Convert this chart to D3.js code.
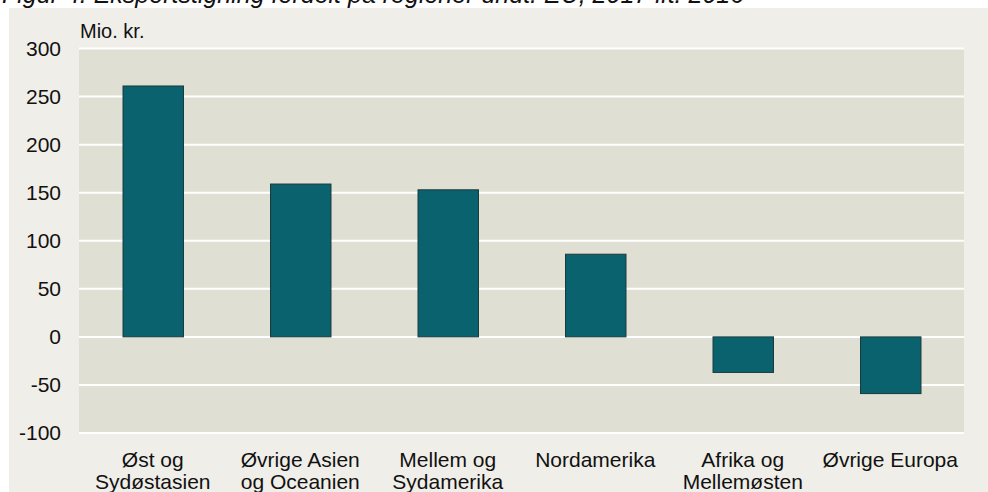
<!DOCTYPE html>
<html>
<head>
<meta charset="utf-8">
<script src="https://cdn.jsdelivr.net/npm/d3@7"></script>
<style>
  body { margin: 0; background: #ffffff; }
  svg { display: block; font-family: Arial, "Liberation Sans", sans-serif; }
</style>
</head>
<body>
<svg id="chart" width="988" height="492"></svg>
<script>
const categories = [
  ["Øst og", "Sydøstasien"],
  ["Øvrige Asien", "og Oceanien"],
  ["Mellem og", "Sydamerika"],
  ["Nordamerika"],
  ["Afrika og", "Mellemøsten"],
  ["Øvrige Europa"],
];
const values = [261, 159, 153, 86, -37, -59];
const yTicks = [-100, -50, 0, 50, 100, 150, 200, 250, 300];

const svg = d3.select("#chart");
const width = 988, height = 492;
const margin = { top: 48.5, right: 24, bottom: 59, left: 79 };

// outer panel
svg.append("rect").attr("x", 9).attr("y", 8).attr("width", width - 9).attr("height", height - 8)
  .attr("fill", "#efeee8");

// title (cut off at top in the original)
svg.append("text").attr("x", 2).attr("y", 3)
  .attr("font-size", 25).attr("font-style", "italic").attr("fill", "#111")
  .text("Figur 4. Eksportstigning fordelt på regioner undt. EU, 2017 ift. 2016");

const x = d3.scaleBand().domain(d3.range(categories.length))
  .range([margin.left, width - margin.right]).paddingInner(0.59).paddingOuter(0.295);
const y = d3.scaleLinear().domain([-100, 300]).range([height - margin.bottom, margin.top]);

svg.append("rect").attr("x", margin.left).attr("y", margin.top)
  .attr("width", width - margin.right - margin.left)
  .attr("height", y(-100) - y(300))
  .attr("fill", "#e0dfd4");

// grid
svg.append("g").selectAll("line").data(yTicks).join("line")
  .attr("x1", margin.left).attr("x2", width - margin.right)
  .attr("y1", (d) => y(d)).attr("y2", (d) => y(d))
  .attr("stroke", "#ffffff").attr("stroke-width", 2);

// y labels
svg.append("g").selectAll("text").data(yTicks).join("text")
  .attr("x", 61).attr("y", (d) => y(d)).attr("dy", "0.35em")
  .attr("text-anchor", "end").attr("font-size", 21).attr("fill", "#111")
  .text((d) => d);

svg.append("text").attr("x", 80).attr("y", 38)
  .attr("font-size", 20).attr("fill", "#111").text("Mio. kr.");

// bars
svg.append("g").selectAll("rect").data(values).join("rect")
  .attr("x", (d, i) => x(i) + 0.5)
  .attr("width", x.bandwidth())
  .attr("y", (d) => y(Math.max(0, d)))
  .attr("height", (d) => Math.abs(y(d) - y(0)))
  .attr("fill", "#09626e").attr("stroke", "#1b3b3b").attr("stroke-width", 1);

// x labels
const xl = svg.append("g").selectAll("text").data(categories).join("text")
  .attr("text-anchor", "middle").attr("font-size", 21).attr("fill", "#111")
  .attr("transform", (d, i) => `translate(${x(i) + x.bandwidth() / 2},467)`);
xl.selectAll("tspan").data((d) => d).join("tspan")
  .attr("x", 0).attr("dy", (d, i) => (i === 0 ? 0 : 22))
  .text((d) => d);
</script>
</body>
</html>
